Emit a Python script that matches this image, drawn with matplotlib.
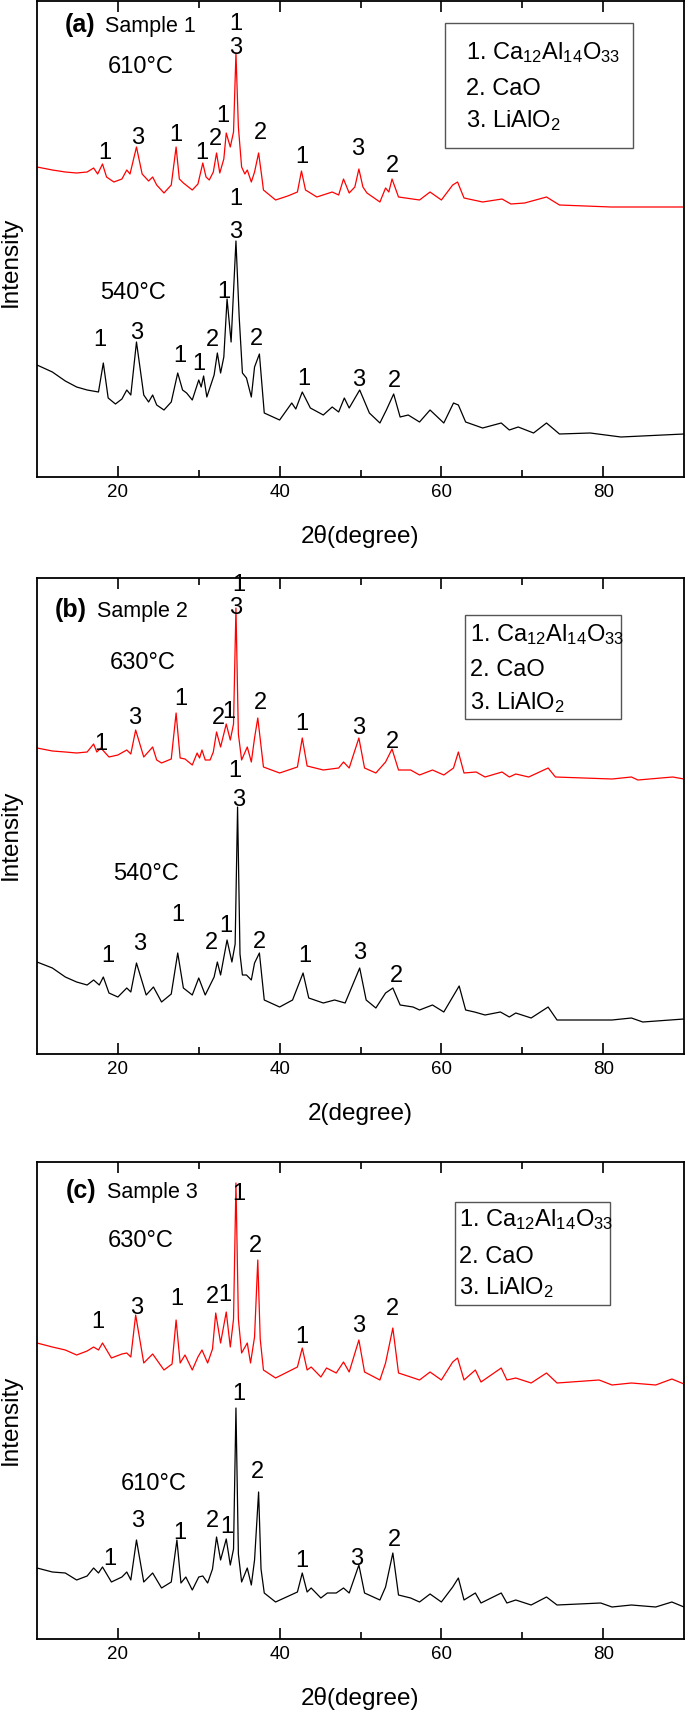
import matplotlib
matplotlib.use('Agg')
import matplotlib.pyplot as plt
from matplotlib.patches import Rectangle

plt.rcParams['font.family'] = ['Liberation Sans', 'DejaVu Sans']
plt.rcParams['mathtext.default'] = 'regular'

# ---------------- data (2theta in degree, intensity in a.u.) ----------------
a_red = [(10.0, 310), (11.9, 307), (13.5, 305), (14.9, 304), (16.2, 305), (17.0, 309), (17.5, 303),
         (18.1, 313), (18.6, 300), (19.5, 295), (20.5, 298), (21.1, 307), (21.5, 303), (22.3, 330),
         (23.0, 303), (23.8, 296), (24.3, 300), (24.8, 292), (25.7, 284), (26.6, 292), (27.2, 330),
         (27.6, 298), (28.1, 294), (29.2, 287), (29.9, 293), (30.5, 314), (30.9, 300), (31.3, 297),
         (31.8, 305), (32.2, 324), (32.6, 304), (33.1, 318), (33.4, 344), (33.9, 330), (34.3, 345),
         (34.6, 424), (34.9, 350), (35.3, 310), (35.7, 303), (36.0, 307), (36.5, 295), (36.9, 305),
         (37.4, 324), (37.8, 300), (38.0, 287), (39.5, 277), (41.0, 281), (42.2, 285), (42.7, 306),
         (43.2, 287), (44.6, 280), (46.5, 285), (47.3, 282), (47.9, 298), (48.6, 284), (49.3, 290),
         (49.8, 308), (50.3, 290), (50.8, 284), (52.4, 275), (53.1, 289), (53.5, 285), (53.9, 298),
         (54.7, 280), (57.3, 277), (58.6, 285), (60.0, 277), (61.4, 292), (62.0, 295), (62.8, 279),
         (65.1, 275), (67.5, 278), (68.6, 273), (70.3, 274), (73.0, 280), (74.6, 272), (81.0, 270),
         (90.0, 270)]
a_black = [(10.0, 112), (11.9, 105), (13.5, 96), (14.9, 90), (16.2, 87), (17.6, 85), (18.2, 114),
           (18.8, 79), (19.7, 73), (20.5, 78), (21.1, 87), (21.6, 82), (22.3, 135), (23.2, 82),
           (23.8, 75), (24.3, 82), (24.8, 72), (25.7, 67), (26.6, 75), (27.4, 104), (28.0, 87),
           (28.5, 84), (29.2, 77), (30.0, 97), (30.3, 90), (30.6, 101), (31.0, 80), (31.9, 102),
           (32.3, 124), (32.7, 104), (33.1, 120), (33.5, 178), (34.0, 135), (34.6, 236), (35.0, 160),
           (35.4, 104), (35.9, 99), (36.5, 80), (36.9, 110), (37.5, 123), (38.1, 64), (40.0, 57),
           (41.5, 74), (42.0, 68), (42.8, 85), (43.8, 69), (45.4, 62), (46.5, 70), (47.3, 65),
           (48.0, 79), (48.6, 69), (49.9, 87), (51.1, 64), (52.4, 54), (53.2, 67), (54.1, 83),
           (54.9, 60), (55.9, 62), (57.3, 55), (58.6, 67), (60.3, 54), (61.5, 74), (62.1, 72),
           (63.0, 55), (65.1, 49), (67.4, 54), (68.4, 47), (69.5, 50), (71.4, 44), (73.0, 54),
           (74.6, 43), (78.4, 44), (82.2, 40), (90.0, 43)]

b_red = [(10.0, 306), (11.9, 303), (13.5, 302), (14.9, 301), (16.2, 302), (17.0, 310), (17.4, 302),
         (17.9, 306), (18.9, 297), (20.0, 299), (21.1, 304), (21.6, 300), (22.2, 324), (23.2, 297),
         (24.3, 307), (24.8, 294), (25.4, 291), (26.6, 295), (27.2, 341), (27.7, 296), (28.3, 295),
         (29.2, 289), (29.8, 301), (30.1, 296), (30.4, 304), (30.8, 294), (31.4, 294), (31.8, 302),
         (32.2, 322), (32.7, 307), (33.4, 330), (33.9, 314), (34.3, 330), (34.6, 446), (34.9, 320),
         (35.3, 294), (36.0, 307),
         (36.5, 292), (36.9, 316), (37.3, 336), (38.0, 287), (40.0, 281), (42.2, 287), (42.8, 316),
         (43.4, 288), (45.4, 284), (47.3, 286), (47.9, 292), (48.6, 286), (49.8, 316), (50.5, 286),
         (51.9, 281), (53.1, 292), (53.9, 305), (54.7, 284), (56.2, 284), (57.3, 279), (58.9, 284),
         (60.3, 279), (61.5, 286), (62.1, 302), (62.8, 281), (64.3, 282), (65.4, 277), (67.5, 282),
         (68.4, 277), (69.2, 280), (70.8, 277), (73.2, 286), (74.1, 277), (81.1, 275), (83.5, 277),
         (84.3, 274), (88.6, 277), (90.0, 275)]
b_black = [(10.0, 92), (11.9, 86), (13.5, 77), (14.9, 72), (16.2, 69), (17.0, 74), (17.7, 69),
           (18.2, 77), (18.9, 61), (20.0, 57), (21.1, 66), (21.6, 62), (22.3, 91), (23.5, 59),
           (24.4, 67), (25.4, 52), (26.6, 60), (27.4, 101), (28.1, 66), (29.2, 59), (30.0, 76),
           (30.8, 59), (31.9, 77), (32.3, 92), (32.7, 79), (33.5, 114), (34.1, 92), (34.5, 110),
           (34.8, 247), (35.1, 100),
           (35.4, 79), (35.9, 79), (36.5, 74), (36.9, 91), (37.5, 101), (38.1, 54), (40.0, 47),
           (41.6, 54), (42.9, 81), (43.6, 56), (45.4, 51), (46.8, 54), (48.1, 51), (49.9, 86),
           (50.7, 54), (51.9, 46), (53.1, 61), (54.0, 66), (54.9, 49), (56.5, 47), (57.3, 44),
           (58.9, 49), (60.3, 42), (62.2, 68), (63.0, 44), (64.1, 42), (65.4, 39), (67.3, 42),
           (68.4, 37), (69.2, 41), (71.1, 36), (73.2, 47), (74.3, 34), (81.1, 34), (83.5, 36),
           (84.9, 32), (90.0, 35)]

c_red = [(10.0, 296), (11.9, 292), (13.5, 289), (14.9, 284), (16.2, 288), (17.0, 292), (17.6, 289),
         (18.1, 296), (19.2, 281), (20.5, 285), (21.1, 286), (21.6, 282), (22.2, 324), (23.2, 276),
         (24.3, 285), (25.7, 269), (26.7, 275), (27.2, 319), (27.7, 276), (28.3, 284), (29.2, 269),
         (29.9, 282), (30.4, 289), (31.1, 276), (31.7, 290), (32.1, 326), (32.7, 296), (33.4, 327),
         (33.9, 292), (34.3, 320), (34.6, 456), (34.9, 320), (35.3, 286), (36.0, 296), (36.4, 276),
         (36.9, 302), (37.3, 379), (37.6, 300),
         (38.0, 269), (39.5, 261), (42.2, 272), (42.8, 291), (43.4, 269), (43.9, 272), (45.1, 262),
         (45.8, 271), (47.0, 266), (47.9, 277), (48.6, 267), (49.8, 299), (50.5, 267), (52.4, 259),
         (53.1, 276), (54.0, 311), (54.7, 266), (56.2, 262), (57.3, 259), (58.6, 267), (60.0, 259),
         (61.4, 277), (62.0, 281), (62.8, 259), (64.2, 269), (64.9, 257), (67.4, 271), (68.1, 259),
         (69.2, 261), (71.1, 256), (73.0, 266), (74.3, 256), (79.5, 259), (81.1, 254), (83.5, 256),
         (86.5, 254), (88.5, 260), (90.0, 255)]
c_black = [(10.0, 71), (11.9, 67), (13.5, 66), (14.9, 59), (16.2, 63), (17.0, 71), (17.6, 66),
           (18.1, 72), (19.2, 57), (20.5, 62), (21.1, 67), (21.6, 59), (22.3, 99), (23.2, 57),
           (24.3, 66), (25.4, 51), (26.6, 57), (27.3, 99), (27.8, 56), (28.4, 62), (29.2, 49),
           (30.0, 62), (30.5, 63), (31.1, 56), (31.7, 70), (32.2, 102), (32.7, 79), (33.4, 100),
           (33.9, 74), (34.3, 90), (34.6, 231), (34.9, 85), (35.3, 57), (36.0, 71), (36.5, 54),
           (36.9, 79), (37.4, 147), (37.7, 70),
           (38.1, 46), (39.5, 37), (42.2, 47), (42.8, 66), (43.4, 47), (43.9, 51), (45.1, 41),
           (45.9, 46), (47.0, 46), (47.9, 51), (48.6, 46), (49.8, 74), (50.5, 46), (52.4, 39),
           (53.1, 52), (54.0, 86), (54.7, 44), (56.2, 41), (57.3, 37), (58.6, 45), (60.0, 37),
           (61.4, 52), (62.1, 61), (62.8, 39), (64.2, 46), (64.9, 36), (67.4, 46), (68.1, 36),
           (69.2, 39), (71.1, 34), (73.0, 42), (74.3, 34), (79.7, 36), (81.1, 32), (83.5, 34),
           (86.5, 32), (88.5, 37), (90.0, 32)]

# peak phase labels (2theta, intensity, phase number)
a_peak_labels = [(18.4, 318, '1'), (22.4, 333, '3'), (27.2, 336, '1'), (30.4, 318, '1'), (32.1, 332, '2'),
                 (33.0, 355, '1'), (34.6, 447, '1'), (34.6, 423, '3'), (37.6, 338, '2'), (42.7, 314, '1'),
                 (49.7, 322, '3'), (53.9, 305, '2'),
                 (34.6, 272, '1'), (34.5, 239, '3'), (33.1, 179, '1'), (17.8, 131, '1'), (22.3, 138, '3'),
                 (27.6, 115, '1'), (30.0, 107, '1'), (31.7, 131, '2'), (37.1, 132, '2'), (43.0, 92, '1'),
                 (49.8, 91, '3'), (54.2, 90, '2')]
b_peak_labels = [(17.9, 304, '1'), (22.1, 330, '3'), (27.8, 349, '1'), (32.4, 330, '2'), (33.7, 336, '1'),
                 (35.0, 463, '1'), (34.5, 440, '3'), (37.6, 345, '2'), (42.8, 324, '1'), (49.8, 320, '3'),
                 (53.9, 306, '2'),
                 (34.5, 277, '1'), (34.9, 248, '3'), (18.8, 92, '1'), (22.7, 104, '3'), (27.4, 133, '1'),
                 (31.6, 105, '2'), (33.4, 122, '1'), (37.5, 106, '2'), (43.1, 92, '1'), (49.9, 95, '3'),
                 (54.4, 72, '2')]
c_peak_labels = [(17.5, 311, '1'), (22.3, 325, '3'), (27.3, 334, '1'), (31.7, 336, '2'), (33.2, 338, '1'),
                 (34.9, 439, '1'), (37.0, 387, '2'), (42.8, 296, '1'), (49.8, 307, '3'), (53.9, 324, '2'),
                 (35.0, 239, '1'), (19.0, 74, '1'), (22.4, 112, '3'), (27.6, 100, '1'), (31.7, 112, '2'),
                 (33.5, 106, '1'), (37.3, 161, '2'), (42.7, 72, '1'), (49.5, 74, '3'), (54.2, 93, '2')]

panel_letters = ['(a)', '(b)', '(c)']
sample_names = ['Sample 1', 'Sample 2', 'Sample 3']
upper_temps = ['610\u00b0C', '630\u00b0C', '630\u00b0C']
lower_temps = ['540\u00b0C', '540\u00b0C', '610\u00b0C']
x_labels = ['2\u03b8(degree)', '2(degree)', '2\u03b8(degree)']
legend_lines = [r'1. Ca$_{12}$Al$_{14}$O$_{33}$', '2. CaO', r'3. LiAlO$_{2}$']
major_ticks = [20, 40, 60, 80]
minor_ticks = [30, 50, 70]

# ---------------- layout ----------------
W, H = 685, 1712
fig = plt.figure(figsize=(W / 100, H / 100), dpi=100)

panel_px = [(1, 477), (578, 1054), (1162, 1639)]        # top, bottom spine (pixels)
temp_pos = [((22.8, 404), (21.9, 178)), ((23.1, 385), (23.5, 174)), ((22.8, 392), (24.4, 149))]
letter_pos = [(13.4, 18.4, 445), (12.2, 17.4, 437), (13.5, 18.6, 441)]
legend_box = [(60.4, 83.7, 329, 454, 63.0, (418, 382, 350)),
              (62.9, 82.2, 335, 439, 63.5, (413, 378, 345)),
              (61.7, 80.8, 334, 437, 62.2, (413, 376, 345))]
ylabel_y = [262, 835, 1420]

curves = [(a_red, a_black), (b_red, b_black), (c_red, c_black)]
labels = [a_peak_labels, b_peak_labels, c_peak_labels]

for i in range(3):
    top, bot = panel_px[i]
    ax = fig.add_axes([37 / W, 1 - bot / H, 647 / W, (bot - top) / H])
    red, black = curves[i]
    ax.plot([p[0] for p in red], [p[1] for p in red], color='#ff0000', lw=0.9)
    ax.plot([p[0] for p in black], [p[1] for p in black], color='black', lw=0.9)
    ax.set_xlim(10, 90)
    ax.set_ylim(0, bot - top)
    ax.set_xticks(major_ticks)
    ax.set_xticks(minor_ticks, minor=True)
    ax.set_yticks([])
    ax.tick_params(axis='x', which='both', direction='in', top=True, bottom=True,
                   width=1.2, labelsize=13.5, pad=5)
    ax.tick_params(axis='x', which='major', length=8)
    ax.tick_params(axis='x', which='minor', length=5)
    for s in ax.spines.values():
        s.set_linewidth(1.3)

    ax.set_xlabel(x_labels[i], fontsize=17.5, va='center')
    ax.xaxis.set_label_coords(0.5, -60 / (bot - top))
    fig.text(11 / W, 1 - ylabel_y[i] / H, 'Intensity', rotation=90, ha='center', va='center',
             fontsize=17.5)

    for x, y, s in labels[i]:
        ax.text(x, y, s, ha='center', va='baseline', fontsize=17)

    (tx1, ty1), (tx2, ty2) = temp_pos[i]
    ax.text(tx1, ty1, upper_temps[i], ha='center', va='baseline', fontsize=17)
    ax.text(tx2, ty2, lower_temps[i], ha='center', va='baseline', fontsize=17)

    lx, sx, ly = letter_pos[i]
    ax.text(lx, ly, panel_letters[i], ha='left', va='baseline', fontsize=18, fontweight='bold')
    ax.text(sx, ly, sample_names[i], ha='left', va='baseline', fontsize=15.5)

    x0, x1, y0, y1, txx, tys = legend_box[i]
    ax.add_patch(Rectangle((x0, y0), x1 - x0, y1 - y0, fill=False, ec='#555555', lw=1.0))
    for ty, s in zip(tys, legend_lines):
        ax.text(txx, ty, s, ha='left', va='baseline', fontsize=17)

fig.savefig('out.png', dpi=100)
